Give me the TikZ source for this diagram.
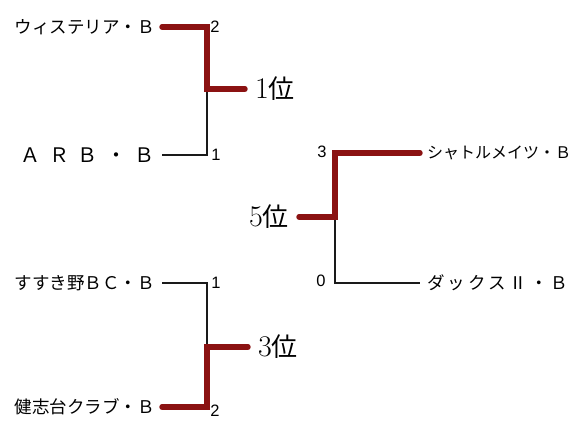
\documentclass[tikz,border=0pt]{standalone}
\usepackage{fontspec}
\usepackage{xcolor}
\usepackage{tikz}
\newfontfamily\cjk{Noto Sans CJK JP}
\newfontfamily\numfont{Liberation Sans}
\definecolor{win}{HTML}{8B1212}
\definecolor{lose}{HTML}{1A1A1A}
\tikzset{
  winline/.style={draw=win, line width=5.4pt, line cap=round, line join=miter},
  loseline/.style={draw=lose, line width=1.1pt},
  team/.style={font=\cjk\fontsize{17.5}{20}\selectfont, inner xsep=7pt, inner ysep=2pt},
  rank/.style={font=\fontsize{30}{32}\selectfont, inner xsep=10pt, inner ysep=0pt},
  score/.style={font=\numfont\fontsize{16.5}{18}\selectfont, inner sep=0pt}
}

\begin{document}
\begin{tikzpicture}[x=1pt,y=-1pt]
  \useasboundingbox (0,0) rectangle (577,421);

  % joints of the brackets
  \coordinate (j1) at (207,89);
  \coordinate (j3) at (207,347);
  \coordinate (j5) at (335,217);

  % teams
  \node[team,anchor=east] (wis) at (162,27) {ウィステリア・Ｂ};
  \node[team,anchor=east,font=\cjk\fontsize{20}{22}\selectfont] (arb) at (162,155)
    {\makebox[134pt][s]{Ａ Ｒ Ｂ ・ Ｂ}};
  \node[team,anchor=east] (sus) at (162,283) {すすき野ＢＣ・Ｂ};
  \node[team,anchor=east] (ken) at (162,407) {健志台クラブ・Ｂ};
  \node[team,anchor=west,font=\cjk\fontsize{16}{18}\selectfont] (sha) at (420,153) {シャトルメイツ・Ｂ};
  \node[team,anchor=west] (dax) at (420,283) {\makebox[141pt][s]{ダ ッ ク ス Ⅱ ・ Ｂ}};

  % places
  \node[rank,anchor=west] (r1) at (245,89) {1{\cjk\fontsize{26}{28}\selectfont 位}};
  \node[rank,anchor=west] (r3) at (248,347) {3{\cjk\fontsize{26}{28}\selectfont 位}};
  \node[rank,anchor=east] (r5) at (299,217) {5{\cjk\fontsize{26}{28}\selectfont 位}};

  % scores
  \node[score] (s1a) at (215,27) {2};
  \node[score] (s1b) at (216,155) {1};
  \node[score] (s3a) at (216,283) {1};
  \node[score] (s3b) at (215,411) {2};
  \node[score] (s5a) at (322,152) {3};
  \node[score] (s5b) at (321,281) {0};

  % bracket lines
  \draw[loseline] (j1) |- (arb.east);
  \draw[winline] (wis.east) -| (j1) -- (r1.west);
  \draw[loseline] (j3) |- (sus.east);
  \draw[winline] (ken.east) -| (j3) -- (r3.west);
  \draw[loseline] (j5) |- (dax.west);
  \draw[winline] (r5.east) -- (j5) |- (sha.west);
\end{tikzpicture}
\end{document}
